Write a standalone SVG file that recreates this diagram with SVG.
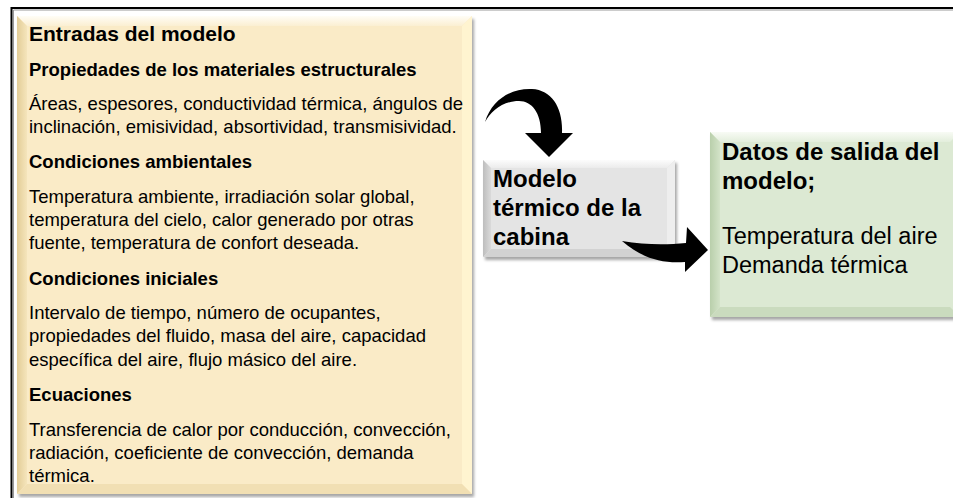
<svg xmlns="http://www.w3.org/2000/svg" width="953" height="498" viewBox="0 0 953 498">
<defs>
<style>
text{font-family:"Liberation Sans",Arial,sans-serif;fill:#000}
.t{font-size:21px;font-weight:bold}
.h{font-size:18.5px;font-weight:bold}
.b{font-size:18.5px}
.g{font-size:24px;font-weight:bold}
.gr{font-size:23.5px}
</style>
<filter id="sh" x="-5%" y="-5%" width="112%" height="112%">
<feDropShadow dx="2" dy="3" stdDeviation="1.8" flood-color="#000" flood-opacity="0.35"/>
</filter>
<linearGradient id="yl" x1="0" y1="0" x2="1" y2="0"><stop offset="0" stop-color="#E3CD97"/><stop offset="1" stop-color="#F5E5BC"/></linearGradient>
<linearGradient id="yt" x1="0" y1="0" x2="0" y2="1"><stop offset="0" stop-color="#FFFDF6"/><stop offset="1" stop-color="#FBEFD2"/></linearGradient>
<linearGradient id="gl" x1="0" y1="0" x2="1" y2="0"><stop offset="0" stop-color="#BDBDBD"/><stop offset="1" stop-color="#DADADA"/></linearGradient>
<linearGradient id="gt" x1="0" y1="0" x2="0" y2="1"><stop offset="0" stop-color="#FCFCFC"/><stop offset="1" stop-color="#EBEBEB"/></linearGradient>
<linearGradient id="nl" x1="0" y1="0" x2="1" y2="0"><stop offset="0" stop-color="#B9CFAB"/><stop offset="1" stop-color="#D3E3C8"/></linearGradient>
<linearGradient id="nt" x1="0" y1="0" x2="0" y2="1"><stop offset="0" stop-color="#F8FBF5"/><stop offset="1" stop-color="#E3EEDC"/></linearGradient>
</defs>
<rect width="953" height="498" fill="#fff"/>
<g id="frame">
<path d="M11.5,498 V8 H953" fill="none" stroke="#000" stroke-width="2"/>
<path d="M13.5,498 V10 H953" fill="none" stroke="#999" stroke-width="1"/>
</g>
<g id="inputs">
<g filter="url(#sh)">
<rect x="17" y="16" width="455" height="478" fill="#FAEBC7"/>
</g>
<polygon points="17,16 472,16 462,26 27,26" fill="url(#yt)"/>
<polygon points="17,16 27,26 27,484 17,494" fill="url(#yl)"/>
<polygon points="472,16 472,494 462,484 462,26" fill="#FFF4D0"/>
<polygon points="17,494 472,494 462,484 27,484" fill="#F1DFB3"/>
<text class="t" x="29" y="41">Entradas del modelo</text>
<text class="h" x="29" y="76">Propiedades de los materiales estructurales</text>
<text class="b" x="29" y="110">Áreas, espesores, conductividad térmica, ángulos de</text>
<text class="b" x="29" y="133">inclinación, emisividad, absortividad, transmisividad.</text>
<text class="h" x="29" y="168">Condiciones ambientales</text>
<text class="b" x="29" y="203">Temperatura ambiente, irradiación solar global,</text>
<text class="b" x="29" y="226">temperatura del cielo, calor generado por otras</text>
<text class="b" x="29" y="249">fuente, temperatura de confort deseada.</text>
<text class="h" x="29" y="285">Condiciones iniciales</text>
<text class="b" x="29" y="319">Intervalo de tiempo, número de ocupantes,</text>
<text class="b" x="29" y="342">propiedades del fluido, masa del aire, capacidad</text>
<text class="b" x="29" y="366">específica del aire, flujo másico del aire.</text>
<text class="h" x="29" y="401">Ecuaciones</text>
<text class="b" x="29" y="436">Transferencia de calor por conducción, convección,</text>
<text class="b" x="29" y="459">radiación, coeficiente de convección, demanda</text>
<text class="b" x="29" y="482">térmica.</text>
</g>
<g id="model">
<g filter="url(#sh)">
<rect x="483" y="160" width="192" height="97" fill="#E4E4E4"/>
</g>
<polygon points="483,160 675,160 667,168 491,168" fill="url(#gt)"/>
<polygon points="483,160 491,168 491,249 483,257" fill="url(#gl)"/>
<polygon points="675,160 675,257 667,249 667,168" fill="#EEEEEE"/>
<polygon points="483,257 675,257 667,249 491,249" fill="#D2D2D2"/>
<text class="g" x="493" y="187">Modelo</text>
<text class="g" x="493" y="216">térmico de la</text>
<text class="g" x="493" y="245">cabina</text>
</g>
<g id="outputs">
<g filter="url(#sh)">
<rect x="710" y="132" width="250" height="185" fill="#DCE9D3"/>
</g>
<polygon points="710,132 960,132 950,142 720,142" fill="url(#nt)"/>
<polygon points="710,132 720,142 720,307 710,317" fill="url(#nl)"/>
<polygon points="710,317 960,317 950,307 720,307" fill="#CADBBE"/>
<text class="g" x="722" y="160">Datos de salida del</text>
<text class="g" x="722" y="189">modelo;</text>
<text class="gr" x="722" y="244">Temperatura del aire</text>
<text class="gr" x="722" y="273">Demanda térmica</text>
</g>
<g id="connectors" fill="#000">
<path d="M485,122 C492,99 512,88 532,89 C552,90 563,108 562,133 L573,133 L549,157 L525,133 L541,133 C541,113 532,101 519,101 C503,101 491,111 485,122 Z"/>
<path d="M622,241 C645,245 666,245 686,243 L687,227 L708,250 L685,272 L685,262 C661,264 640,257 622,241 Z"/>
</g>
</svg>
